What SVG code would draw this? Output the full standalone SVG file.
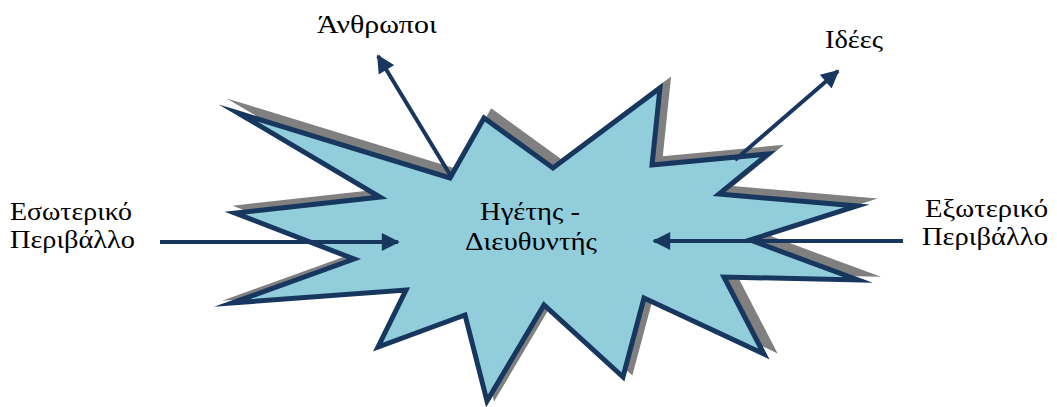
<svg xmlns="http://www.w3.org/2000/svg" width="1057" height="407" viewBox="0 0 1057 407">
<defs>
<style>
.lbl{font-family:'Liberation Serif','DejaVu Serif',serif;font-size:26px;fill:#000}
.ctr{font-family:'Liberation Serif','DejaVu Serif',serif;font-size:25px;fill:#000}
.conn{stroke:#17375E;stroke-width:4;fill:none}
</style>
<marker id="ah" viewBox="0 0 10 10" refX="9" refY="5" markerWidth="5" markerHeight="4.5" markerUnits="strokeWidth" orient="auto">
<path d="M0,0 L10,5 L0,10 Z" fill="#17375E"/>
</marker>
</defs>
<rect width="1057" height="407" fill="#fff"/>
<g id="star">
<polygon transform="translate(8,-6)" fill="#808080" stroke="#808080" stroke-width="5" stroke-linejoin="miter" stroke-miterlimit="20" points="238,113 450,178 484,118 553,168 660,88 652,165 768,154 719,194 857,206 750,240 858,280 724,277 764,354 644,298 623,377 544,305 487,401 465,315 378,347 406,290 232,303 354,259 235,213 380,197"/>
<polygon fill="#92CDDC" stroke="#17375E" stroke-width="5" stroke-linejoin="miter" stroke-miterlimit="20" points="238,113 450,178 484,118 553,168 660,88 652,165 768,154 719,194 857,206 750,240 858,280 724,277 764,354 644,298 623,377 544,305 487,401 465,315 378,347 406,290 232,303 354,259 235,213 380,197"/>
<text class="ctr" x="480" y="220" textLength="100" lengthAdjust="spacingAndGlyphs">Ηγέτης -</text>
<text class="ctr" x="465" y="250" textLength="132" lengthAdjust="spacingAndGlyphs">Διευθυντής</text>
</g>
<g id="connectors">
<line class="conn" x1="160" y1="242" x2="398" y2="242" marker-end="url(#ah)"/>
<line class="conn" x1="903" y1="241" x2="654" y2="241" marker-end="url(#ah)"/>
<line class="conn" x1="452" y1="178" x2="378" y2="56" marker-end="url(#ah)"/>
<line class="conn" x1="735" y1="160" x2="838" y2="71" marker-end="url(#ah)"/>
</g>
<g id="anthropoi"><text class="lbl" x="317" y="33" textLength="120" lengthAdjust="spacingAndGlyphs">Άνθρωποι</text></g>
<g id="idees"><text class="lbl" x="825" y="48" textLength="58" lengthAdjust="spacingAndGlyphs">Ιδέες</text></g>
<g id="esoteriko">
<text class="lbl" x="10" y="220" textLength="122" lengthAdjust="spacingAndGlyphs">Εσωτερικό</text>
<text class="lbl" x="10" y="248" textLength="125" lengthAdjust="spacingAndGlyphs">Περιβάλλο</text>
</g>
<g id="exoteriko">
<text class="lbl" x="925" y="217" textLength="123" lengthAdjust="spacingAndGlyphs">Εξωτερικό</text>
<text class="lbl" x="922" y="245" textLength="126" lengthAdjust="spacingAndGlyphs">Περιβάλλο</text>
</g>
</svg>
